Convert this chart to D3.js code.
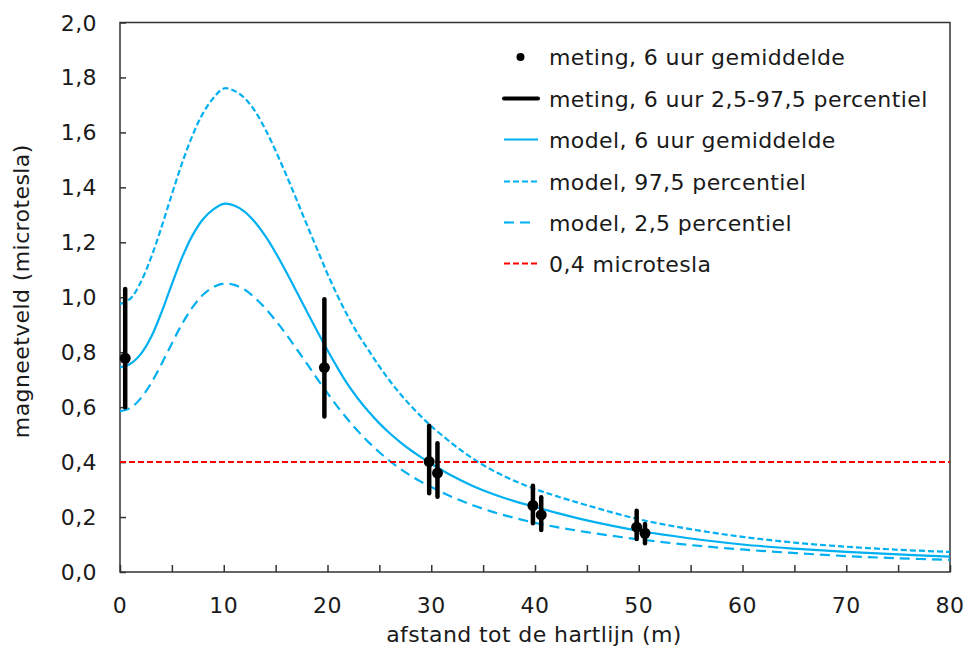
<!DOCTYPE html>
<html>
<head>
<meta charset="utf-8">
<script src="https://cdn.jsdelivr.net/npm/d3@7/dist/d3.min.js"></script>
<style>
  html, body { margin: 0; padding: 0; background: #fff; }
  svg { display: block; font-family: "DejaVu Sans", Verdana, sans-serif; }
</style>
</head>
<body>
<svg id="chart" width="966" height="646"></svg>
<script>
// Measurements: position (m), 6-hour mean and 2.5–97.5 percentile range (µT)
const measX    = [0.5, 19.7, 29.8, 30.6, 39.8, 40.6, 49.8, 50.6];
const measMean = [0.778, 0.744, 0.402, 0.360, 0.242, 0.208, 0.163, 0.141];
const measLow  = [0.600, 0.566, 0.287, 0.274, 0.177, 0.153, 0.120, 0.105];
const measHigh = [1.030, 0.993, 0.532, 0.469, 0.314, 0.272, 0.223, 0.175];

// Model curves sampled along the distance axis (m)
const modelX    = [0, 1, 2, 3, 4, 5, 6, 7, 8, 9, 10, 11, 12, 13, 14, 15, 16, 17, 18, 19, 20,
                   21, 22, 23, 24, 25, 26, 27, 28, 29, 30, 32, 34, 36, 38, 40, 42, 45, 50, 55, 60, 65, 70, 75, 80];
const modelMean = [0.745, 0.758, 0.793, 0.855, 0.945, 1.048, 1.146, 1.226, 1.284, 1.320, 1.340,
                   1.334, 1.312, 1.274, 1.223, 1.162, 1.094, 1.022, 0.949, 0.877, 0.807,
                   0.741, 0.680, 0.628, 0.582, 0.541, 0.505, 0.473, 0.444, 0.418, 0.394,
                   0.350, 0.313, 0.283, 0.258, 0.237, 0.216, 0.188, 0.150, 0.122, 0.100, 0.085, 0.073, 0.064, 0.056];
const modelP975 = [0.975, 0.995, 1.055, 1.145, 1.255, 1.375, 1.490, 1.590, 1.670, 1.725, 1.760,
                   1.752, 1.725, 1.678, 1.612, 1.533, 1.447, 1.357, 1.265, 1.175, 1.085,
                   1.003, 0.928, 0.862, 0.805, 0.748, 0.696, 0.649, 0.606, 0.567, 0.531,
                   0.468, 0.413, 0.368, 0.332, 0.302, 0.277, 0.243, 0.192, 0.156, 0.128, 0.107, 0.092, 0.081, 0.073];
const modelP025 = [0.585, 0.597, 0.632, 0.687, 0.757, 0.832, 0.904, 0.964, 1.009, 1.037, 1.050,
                   1.045, 1.028, 0.998, 0.960, 0.915, 0.866, 0.813, 0.759, 0.704, 0.651,
                   0.600, 0.553, 0.510, 0.471, 0.436, 0.404, 0.376, 0.351, 0.329, 0.309,
                   0.273, 0.243, 0.218, 0.197, 0.179, 0.164, 0.145, 0.119, 0.098, 0.082, 0.069, 0.058, 0.050, 0.044];

const threshold = 0.4;

const xTicksMajor = [0, 10, 20, 30, 40, 50, 60, 70, 80];
const xTicksAll   = [0, 5, 10, 15, 20, 25, 30, 35, 40, 45, 50, 55, 60, 65, 70, 75, 80];
const yTicks      = [0, 0.2, 0.4, 0.6, 0.8, 1.0, 1.2, 1.4, 1.6, 1.8, 2.0];

const legendLabels = [
  "meting, 6 uur gemiddelde",
  "meting, 6 uur 2,5-97,5 percentiel",
  "model, 6 uur gemiddelde",
  "model, 97,5 percentiel",
  "model, 2,5 percentiel",
  "0,4 microtesla"
];

const BLUE = "#00b0f0", RED = "#ff0000", AXIS = "#333333", TEXT = "#1a1a1a";
const FS = 22, LS = 0.4;
const DASH_HI = "6,3", DASH_LO = "10,6", DASH_RED = "6,3";

const svg = d3.select("#chart");
const pL = 120, pR = 950, pT = 22.5, pB = 572;

const x = d3.scaleLinear().domain([0, 80]).range([pL, pR]);
const y = d3.scaleLinear().domain([0, 2]).range([pB, pT]);
const fmt = v => d3.format(".1f")(v).replace(".", ",");

// plot frame
svg.append("rect")
  .attr("x", pL).attr("y", pT)
  .attr("width", pR - pL).attr("height", pB - pT)
  .attr("fill", "none").attr("stroke", AXIS).attr("stroke-width", 1.5);

// x axis: ticks point into the plot
const xAxis = svg.append("g").attr("transform", `translate(0,${pB})`)
  .call(d3.axisTop(x).tickValues(xTicksAll).tickSize(7).tickFormat(""));
xAxis.select(".domain").remove();
xAxis.selectAll("line").attr("stroke", AXIS).attr("stroke-width", 1.5);

svg.append("g").selectAll("text").data(xTicksMajor).join("text")
  .attr("x", d => x(d)).attr("y", 613)
  .attr("text-anchor", "middle")
  .attr("font-size", FS).attr("letter-spacing", LS).attr("fill", TEXT)
  .text(d => d);

// y axis
const yAxis = svg.append("g").attr("transform", `translate(${pL},0)`)
  .call(d3.axisRight(y).tickValues(yTicks).tickSize(6).tickFormat(""));
yAxis.select(".domain").remove();
yAxis.selectAll("line").attr("stroke", AXIS).attr("stroke-width", 1.5);

svg.append("g").selectAll("text").data(yTicks).join("text")
  .attr("x", 97).attr("y", d => y(d) + 8)
  .attr("text-anchor", "end")
  .attr("font-size", FS).attr("letter-spacing", LS).attr("fill", TEXT)
  .text(fmt);

// axis titles
svg.append("text")
  .attr("x", (pL + pR) / 2 - 1).attr("y", 642)
  .attr("text-anchor", "middle").attr("font-size", FS).attr("letter-spacing", LS).attr("fill", TEXT)
  .text("afstand tot de hartlijn (m)");
svg.append("text")
  .attr("transform", `translate(29,${(pT + pB) / 2 - 6}) rotate(-90)`)
  .attr("text-anchor", "middle").attr("font-size", FS).attr("letter-spacing", LS).attr("fill", TEXT)
  .text("magneetveld (microtesla)");

// model curves
const line = d3.line().x(d => x(d[0])).y(d => y(d[1])).curve(d3.curveCatmullRom.alpha(0.5));
const curve = vals => modelX.map((d, i) => [d, vals[i]]);

const plot = svg.append("g");
plot.append("path").datum(curve(modelP975))
  .attr("d", line).attr("fill", "none").attr("stroke", BLUE)
  .attr("stroke-width", 2.2).attr("stroke-dasharray", DASH_HI);
plot.append("path").datum(curve(modelP025))
  .attr("d", line).attr("fill", "none").attr("stroke", BLUE)
  .attr("stroke-width", 2.2).attr("stroke-dasharray", DASH_LO);
plot.append("path").datum(curve(modelMean))
  .attr("d", line).attr("fill", "none").attr("stroke", BLUE)
  .attr("stroke-width", 2.2);

// 0,4 µT reference line
plot.append("line")
  .attr("x1", x(0)).attr("x2", x(80))
  .attr("y1", y(threshold)).attr("y2", y(threshold))
  .attr("stroke", RED).attr("stroke-width", 2).attr("stroke-dasharray", DASH_RED);

// measurement ranges and means
plot.append("g").selectAll("line").data(measX).join("line")
  .attr("x1", d => x(d)).attr("x2", d => x(d))
  .attr("y1", (d, i) => y(measLow[i])).attr("y2", (d, i) => y(measHigh[i]))
  .attr("stroke", "#000").attr("stroke-width", 4.5).attr("stroke-linecap", "round");
plot.append("g").selectAll("circle").data(measX).join("circle")
  .attr("cx", d => x(d)).attr("cy", (d, i) => y(measMean[i]))
  .attr("r", 5.5).attr("fill", "#000");

// legend
const legY = [57, 98.5, 139.5, 181.5, 222.5, 263.5];
const lg = svg.append("g");
const lx1 = 504, lx2 = 538;
lg.append("circle").attr("cx", (lx1 + lx2) / 2 - 0.5).attr("cy", legY[0]).attr("r", 4).attr("fill", "#000");
lg.append("line").attr("x1", lx1).attr("x2", lx2).attr("y1", legY[1]).attr("y2", legY[1])
  .attr("stroke", "#000").attr("stroke-width", 4).attr("stroke-linecap", "round");
lg.append("line").attr("x1", lx1).attr("x2", lx2).attr("y1", legY[2]).attr("y2", legY[2])
  .attr("stroke", BLUE).attr("stroke-width", 2.2);
lg.append("line").attr("x1", lx1).attr("x2", lx2).attr("y1", legY[3]).attr("y2", legY[3])
  .attr("stroke", BLUE).attr("stroke-width", 2.2).attr("stroke-dasharray", DASH_HI);
lg.append("line").attr("x1", lx1).attr("x2", lx2 - 6).attr("y1", legY[4]).attr("y2", legY[4])
  .attr("stroke", BLUE).attr("stroke-width", 2.2).attr("stroke-dasharray", DASH_LO);
lg.append("line").attr("x1", lx1).attr("x2", lx2).attr("y1", legY[5]).attr("y2", legY[5])
  .attr("stroke", RED).attr("stroke-width", 2).attr("stroke-dasharray", DASH_RED);
lg.selectAll("text").data(legendLabels).join("text")
  .attr("x", 549).attr("y", (d, i) => legY[i] + 8)
  .attr("font-size", FS).attr("letter-spacing", LS).attr("fill", TEXT)
  .text(d => d);
</script>
</body>
</html>
